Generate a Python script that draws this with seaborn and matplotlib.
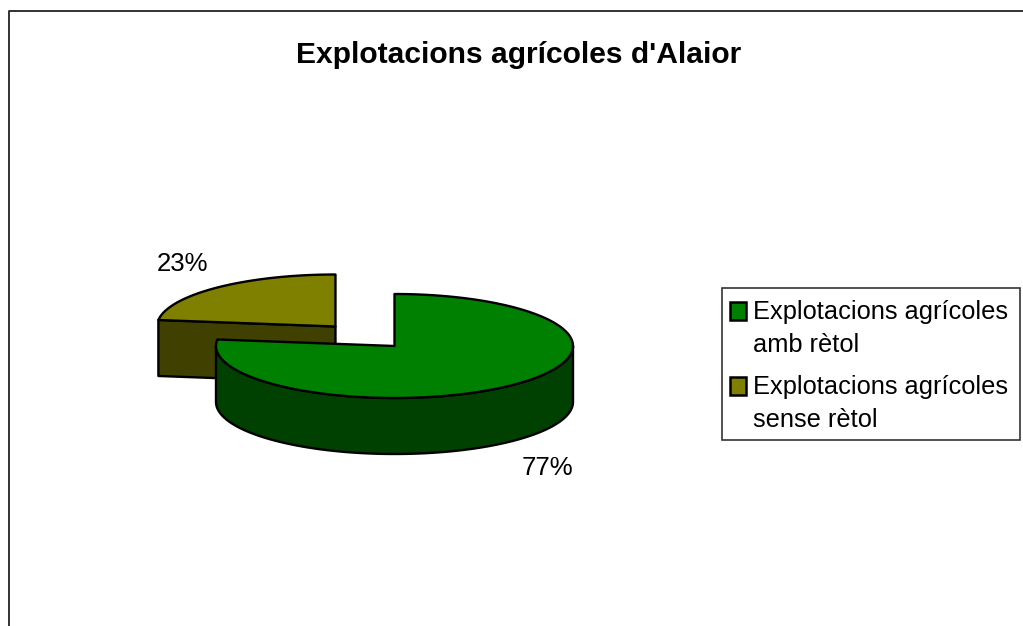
import numpy as np
import matplotlib
matplotlib.use("Agg")
import matplotlib.pyplot as plt
import seaborn as sns
from matplotlib.patches import Rectangle

titol = "Explotacions agrícoles d'Alaior"
categories = ["Explotacions agrícoles\namb rètol", "Explotacions agrícoles\nsense rètol"]
valors = [77, 23]
colors_top = ["#008000", "#808000"]
colors_side = ["#004000", "#404000"]

sns.set_theme(style="white")
plt.rcParams['font.family'] = ['Liberation Sans', 'DejaVu Sans']

# geometria del pastis 3D, en pixels
cx, cy = 394.5, 346
rx, ry = 178.5, 52
gruix = 56
explode = 0.5
gruix_linia = 1.7


def punt(angle, c):
    # angle en graus des de dalt, sentit horari
    a = np.radians(angle)
    return c[0] + rx * np.sin(a), c[1] - ry * np.cos(a)


def arc(a0, a1, c, dy=0):
    t = np.linspace(a0, a1, 200)
    x, y = punt(t, c)
    return x, y + dy


fig, ax = plt.subplots(figsize=(10.23, 6.26), dpi=100)
ax.set_position([0, 0, 1, 1])
ax.set_xlim(0, 1023)
ax.set_ylim(626, 0)
ax.axis("off")

ax.plot([9, 9, 1023], [626, 11, 11], color="#222222", lw=1.3)
ax.text(518.5, 55, titol, ha="center", va="center", fontsize=21.6, fontweight="bold", color="black")

total = sum(valors)
inici_gran = 0
fi_gran = 360 * valors[0] / total

# porcio petita, desplacada
mig = (fi_gran + 360) / 2
c2 = punt(mig, (cx, cy))
c2 = (cx + (c2[0] - cx) * explode, cy + (c2[1] - cy) * explode)
vora = punt(fi_gran, c2)
ax.fill([c2[0], vora[0], vora[0], c2[0]], [c2[1], vora[1], vora[1] + gruix, c2[1] + gruix],
        facecolor=colors_side[1], edgecolor="black", lw=gruix_linia, joinstyle="round")
x, y = arc(fi_gran, 360, c2)
ax.fill(np.r_[c2[0], x], np.r_[c2[1], y], facecolor=colors_top[1], edgecolor="black", lw=gruix_linia, joinstyle="round")

# porcio gran
x, y = arc(90, 270, (cx, cy))
xb, yb = arc(270, 90, (cx, cy), gruix)
ax.fill(np.r_[x, xb], np.r_[y, yb], facecolor=colors_side[0], edgecolor="black", lw=gruix_linia, joinstyle="round")
x, y = arc(inici_gran, fi_gran, (cx, cy))
ax.fill(np.r_[cx, x], np.r_[cy, y], facecolor=colors_top[0], edgecolor="black", lw=gruix_linia, joinstyle="round")

ax.text(547, 468, f"{valors[0]}%", ha="center", va="center", fontsize=18.5, color="black")
ax.text(182, 264, f"{valors[1]}%", ha="center", va="center", fontsize=18.5, color="black")

# llegenda
ax.add_patch(Rectangle((722, 288), 297.5, 152, facecolor="white", edgecolor="#333333", lw=1.2))
for i, cat in enumerate(categories):
    y0 = 310.5 + i * 75.5
    ax.add_patch(Rectangle((730, y0 - 9), 16, 18, facecolor=colors_top[i], edgecolor="black", lw=1.8))
    linies = cat.split("\n")
    ax.text(753, y0 + 1, linies[0], va="center", fontsize=18.3, color="black")
    ax.text(753, y0 + 34, linies[1], va="center", fontsize=18.3, color="black")

fig.savefig("out.png", dpi=100)
